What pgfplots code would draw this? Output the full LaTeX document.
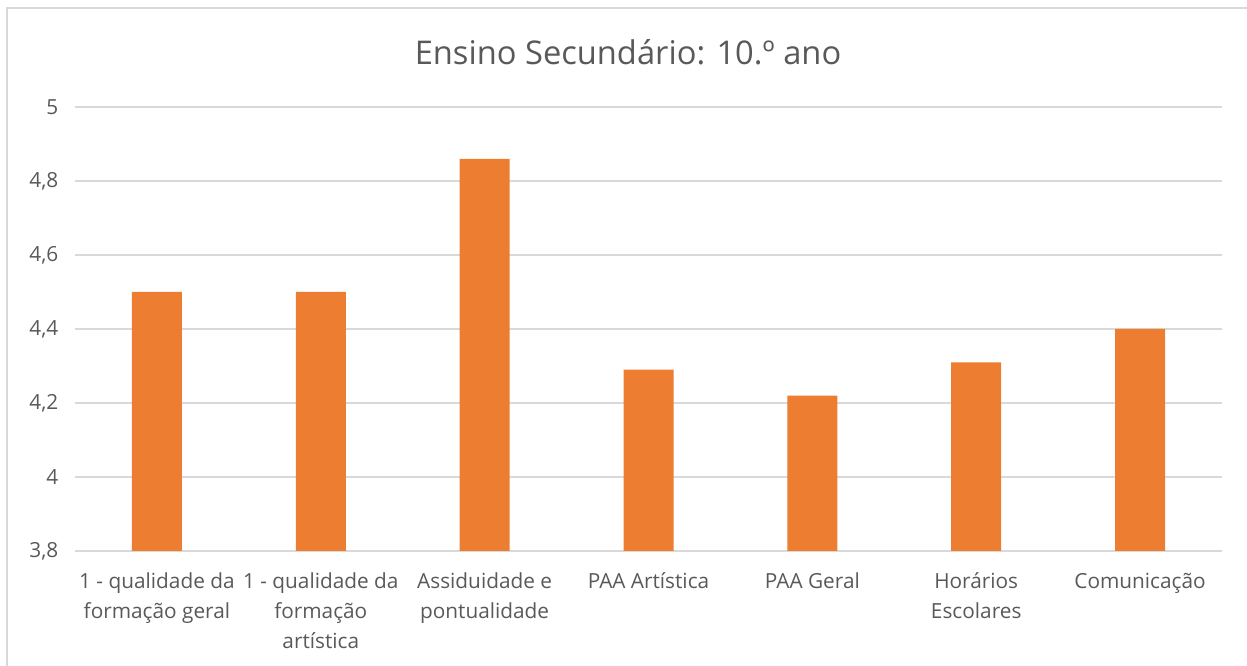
\documentclass[border=0pt]{standalone}
\usepackage{pgfplots}
\pgfplotsset{compat=1.18}
\usepackage{fontspec}
\setmainfont{Open Sans}
\definecolor{barorange}{HTML}{ED7D31}
\definecolor{gridgray}{HTML}{D9D9D9}
\definecolor{textgray}{HTML}{595959}
\begin{document}
\begin{tikzpicture}
\useasboundingbox (0,0) rectangle (935.25pt,499.5pt);
\draw[gridgray, line width=0.9pt] (5.25pt,-5pt) -- (5.25pt,493.5pt) -- (940pt,493.5pt);
\node[text=textgray, font=\fontsize{24.5pt}{28pt}\selectfont] at (471pt,460.5pt) {Ensino Secundário: 10.º ano};
\begin{axis}[
  at={(56.25pt,86.25pt)}, anchor=south west,
  scale only axis, width=860.25pt, height=333pt,
  ymin=3.8, ymax=5, ytick={3.8,4,4.2,4.4,4.6,4.8,5},
  xmin=-0.5, xmax=6.5,
  xtick={0,1,2,3,4,5,6},
  xticklabels={{1 - qualidade da\\formação geral},{1 - qualidade da\\formação\\artística},{Assiduidade e\\pontualidade},{PAA Artística},{PAA Geral},{Horários\\Escolares},{Comunicação}},
  xticklabel style={align=center, text=textgray, font=\fontsize{15.6pt}{22.5pt}\selectfont, yshift=-13pt},
  yticklabel style={text=textgray, font=\fontsize{15.6pt}{18pt}\selectfont, xshift=-9pt},
  /pgf/number format/assume math mode=true,
  /pgf/number format/use comma,
  ymajorgrids, grid style={gridgray, line width=0.9pt},
  axis line style={draw=none},
  major tick length=0pt,
  ybar, bar width=37.5pt,
]
\addplot[fill=barorange, draw=none] coordinates {(0,4.5) (1,4.5) (2,4.86) (3,4.29) (4,4.22) (5,4.31) (6,4.4)};
\end{axis}
\end{tikzpicture}
\end{document}
